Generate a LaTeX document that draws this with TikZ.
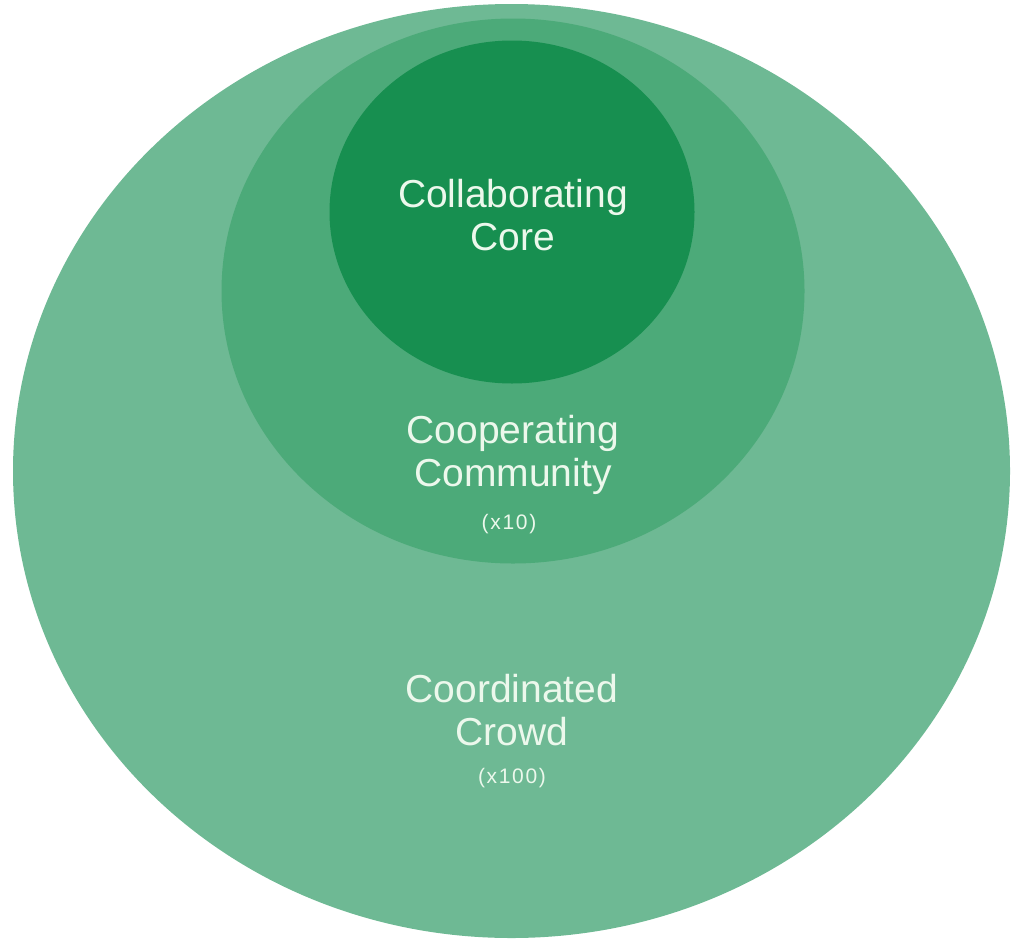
\documentclass[tikz,border=0pt]{standalone}
\usepackage{fontspec}
\setmainfont{Liberation Sans}
\usetikzlibrary{shapes.geometric}
\definecolor{crowd}{RGB}{110,185,148}
\definecolor{community}{RGB}{76,170,121}
\definecolor{core}{RGB}{23,143,80}
\definecolor{label}{RGB}{236,248,236}
\tikzset{
  blob/.style={ellipse, draw=none, inner sep=0pt},
  bigtext/.style={text=label, align=center, font=\fontsize{39}{43}\selectfont},
  smalltext/.style={text=label, align=center, font=\fontsize{21}{24}\selectfont\addfontfeature{LetterSpace=8}}
}
\begin{document}
\begin{tikzpicture}[x=1pt,y=-1pt]
\useasboundingbox (0,0) rectangle (1016,940);
\node[blob, fill=crowd, minimum width=997pt, minimum height=934pt] (crowd) at (511.5,471) {};
\node[blob, fill=community, minimum width=583pt, minimum height=545pt] (community) at (513,291) {};
\node[blob, fill=core, minimum width=365pt, minimum height=343pt] (core) at (512,212) {};
\node[bigtext] (coretext) at (513,215) {Collaborating\\Core};
\node[bigtext] (commtext) at (513,455) {Cooperating\\Community};
\node[smalltext] (commnum) at (509,524) {(x10)};
\node[bigtext] (crowdtext) at (512,710) {Coordinated\\Crowd};
\node[smalltext] (crowdnum) at (512,778) {(x100)};
\end{tikzpicture}
\end{document}
